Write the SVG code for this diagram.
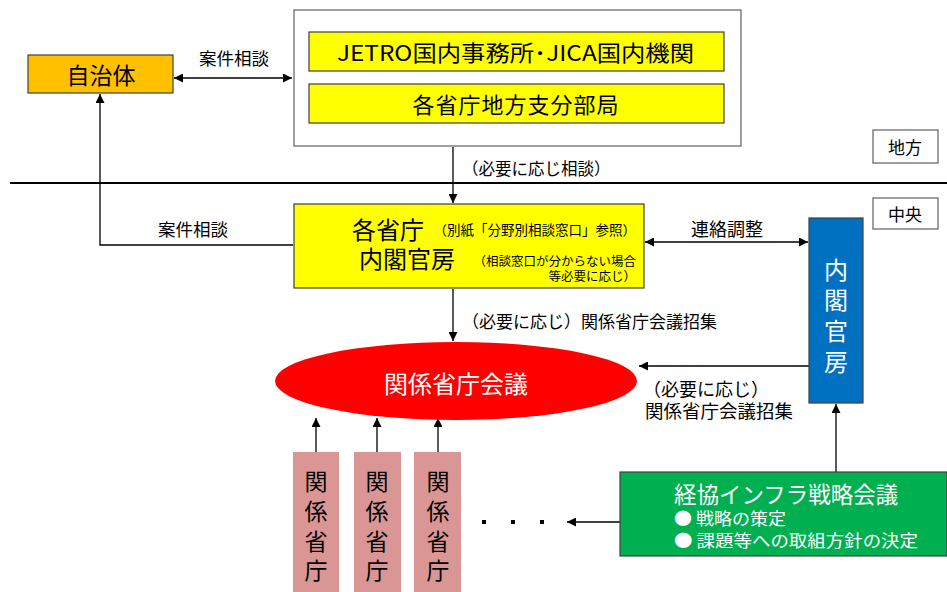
<svg xmlns="http://www.w3.org/2000/svg" width="947" height="592" viewBox="0 0 947 592">
<defs>
<marker id="ah" viewBox="0 0 10 10" refX="10" refY="5" markerWidth="9" markerHeight="9" markerUnits="userSpaceOnUse" orient="auto-start-reverse">
<path d="M0,0 L10,5 L0,10 z" fill="#000"/>
</marker>
<style>
text{font-family:"Noto Sans CJK JP","Liberation Sans",sans-serif;fill:#000;dominant-baseline:central}
.w{fill:#fff}
.c{text-anchor:middle}
.e{text-anchor:end}
.box{stroke:#404040;stroke-width:1.2}
.ln{stroke:#000;stroke-width:1.3;fill:none}
.v{font-size:23px;text-anchor:middle}
</style>
</defs>
<rect width="947" height="592" fill="#fff"/>

<line x1="10" y1="183" x2="947" y2="183" stroke="#000" stroke-width="2"/>

<g id="connectors">
<line class="ln" x1="174" y1="78" x2="292" y2="78" marker-start="url(#ah)" marker-end="url(#ah)"/>
<text x="234" y="57" class="c" font-size="17.5">案件相談</text>
<polyline class="ln" points="293,245 100,245 100,94" marker-end="url(#ah)"/>
<text x="193" y="228" class="c" font-size="17.5">案件相談</text>
<line class="ln" x1="453" y1="147" x2="453" y2="203" marker-end="url(#ah)"/>
<text x="462" y="168" font-size="16.5">（必要に応じ相談）</text>
<line class="ln" x1="645" y1="242" x2="808" y2="242" marker-start="url(#ah)" marker-end="url(#ah)"/>
<text x="727" y="228" class="c" font-size="18">連絡調整</text>
<line class="ln" x1="453" y1="289" x2="453" y2="341" marker-end="url(#ah)"/>
<text x="462" y="320" font-size="17">（必要に応じ）関係省庁会議招集</text>
<line class="ln" x1="809" y1="366" x2="639" y2="366" marker-end="url(#ah)"/>
<text x="643" y="388" font-size="18">（必要に応じ）</text>
<text x="645" y="410" font-size="18.5">関係省庁会議招集</text>
<line class="ln" x1="836" y1="472" x2="836" y2="404" marker-end="url(#ah)"/>
<line class="ln" x1="316" y1="452" x2="316" y2="418" marker-end="url(#ah)"/>
<line class="ln" x1="377" y1="452" x2="377" y2="418" marker-end="url(#ah)"/>
<line class="ln" x1="438" y1="452" x2="438" y2="418" marker-end="url(#ah)"/>
<line class="ln" x1="620" y1="522" x2="567" y2="522" marker-end="url(#ah)"/>
<rect x="482" y="520" width="4" height="4" fill="#000"/>
<rect x="511" y="520" width="4" height="4" fill="#000"/>
<rect x="540" y="520" width="4" height="4" fill="#000"/>
</g>

<g id="jichitai">
<rect class="box" x="28" y="55" width="145" height="38" fill="#FFC000"/>
<text x="101" y="74" class="c" font-size="23">自治体</text>
</g>

<g id="chiho-group">
<rect x="294" y="10" width="447" height="136" fill="#fff" stroke="#606060" stroke-width="1.2"/>
</g>
<g id="jetro">
<rect class="box" x="309" y="32" width="415" height="39" fill="#FFFF00"/>
<text x="337" y="51" font-size="22" textLength="357" lengthAdjust="spacingAndGlyphs">JETRO国内事務所･JICA国内機関</text>
</g>
<g id="chiho-shibu">
<rect class="box" x="309" y="84" width="415" height="39" fill="#FFFF00"/>
<text x="516" y="103" class="c" font-size="22" letter-spacing="1">各省庁地方支分部局</text>
</g>

<g id="label-chiho">
<rect x="873" y="130" width="65" height="33" fill="#fff" stroke="#606060" stroke-width="1.2"/>
<text x="905" y="146" class="c" font-size="17">地方</text>
</g>
<g id="label-chuo">
<rect x="873" y="198" width="65" height="31" fill="#fff" stroke="#606060" stroke-width="1.2"/>
<text x="905" y="213" class="c" font-size="17">中央</text>
</g>

<g id="kakushocho">
<rect class="box" x="294" y="204" width="350" height="84" fill="#FFFF00"/>
<text x="388" y="228" class="c" font-size="24">各省庁</text>
<text x="407" y="257" class="c" font-size="24">内閣官房</text>
<text x="636" y="229" class="e" font-size="13.5">（別紙「分野別相談窓口」参照）</text>
<text x="636" y="260" class="e" font-size="12.5">（相談窓口が分からない場合</text>
<text x="636" y="275" class="e" font-size="12.5">等必要に応じ）</text>
</g>

<g id="naikaku">
<rect class="box" x="809" y="218" width="54" height="185" fill="#0070C0"/>
<text x="836" y="268" class="c w" font-size="24">内</text>
<text x="836" y="298" class="c w" font-size="24">閣</text>
<text x="836" y="329" class="c w" font-size="24">官</text>
<text x="836" y="360" class="c w" font-size="24">房</text>
</g>

<g id="kaigi">
<ellipse cx="456" cy="381" rx="181" ry="39" fill="#FF0000"/>
<text x="456" y="382" class="c w" font-size="24">関係省庁会議</text>
</g>

<g id="shocho1">
<rect x="293" y="452" width="46" height="145" fill="#DA9694"/>
<text x="316" y="480" class="v">関</text>
<text x="316" y="510" class="v">係</text>
<text x="316" y="540" class="v">省</text>
<text x="316" y="569" class="v">庁</text>
</g>
<g id="shocho2">
<rect x="354" y="452" width="47" height="145" fill="#DA9694"/>
<text x="377" y="480" class="v">関</text>
<text x="377" y="510" class="v">係</text>
<text x="377" y="540" class="v">省</text>
<text x="377" y="569" class="v">庁</text>
</g>
<g id="shocho3">
<rect x="414" y="452" width="47" height="145" fill="#DA9694"/>
<text x="438" y="480" class="v">関</text>
<text x="438" y="510" class="v">係</text>
<text x="438" y="540" class="v">省</text>
<text x="438" y="569" class="v">庁</text>
</g>

<g id="keikyo">
<rect class="box" x="620" y="472" width="327" height="84" fill="#00B050"/>
<text x="674" y="493" class="w" font-size="22.5">経協インフラ戦略会議</text>
<text x="674" y="517" class="w" font-size="17" textLength="112" lengthAdjust="spacingAndGlyphs">● 戦略の策定</text>
<text x="674" y="539" class="w" font-size="17" textLength="244" lengthAdjust="spacingAndGlyphs">● 課題等への取組方針の決定</text>
</g>
</svg>
